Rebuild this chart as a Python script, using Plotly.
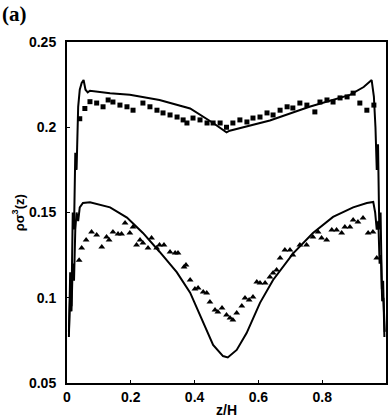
import plotly.graph_objects as go

# Upper curve (solid line, theory)
upper_line_x = [0.006, 0.010, 0.014, 0.018, 0.022, 0.026, 0.030, 0.035, 0.040, 0.046, 0.052, 0.058, 0.065,
                0.072, 0.135, 0.197, 0.29, 0.386, 0.458, 0.50, 0.51, 0.636, 0.76, 0.887, 0.93, 0.955,
                0.962, 0.967, 0.971, 0.975, 0.979, 0.983, 0.987, 0.991, 0.995]
upper_line_y = [0.077, 0.115, 0.095, 0.150, 0.140, 0.185, 0.175, 0.212, 0.222, 0.226, 0.2277, 0.222, 0.2205,
                0.2214, 0.220, 0.219, 0.216, 0.211, 0.2025, 0.197, 0.198, 0.204, 0.212, 0.219, 0.2236, 0.2277,
                0.218, 0.200, 0.175, 0.190, 0.140, 0.150, 0.105, 0.110, 0.077]

# Upper simulation points (squares)
sq_x = [0.040, 0.056, 0.072, 0.093, 0.113, 0.129, 0.144, 0.166, 0.188, 0.207, 0.238, 0.26, 0.282, 0.301,
        0.323, 0.345, 0.364, 0.376, 0.395, 0.417, 0.439, 0.458, 0.48, 0.50, 0.52, 0.542, 0.564, 0.583,
        0.605, 0.627, 0.646, 0.668, 0.69, 0.708, 0.73, 0.752, 0.777, 0.793, 0.815, 0.834, 0.856, 0.878,
        0.897, 0.918, 0.94, 0.962]
sq_y = [0.205, 0.211, 0.215, 0.2142, 0.212, 0.216, 0.2148, 0.213, 0.212, 0.210, 0.2142, 0.212, 0.210, 0.2084,
        0.2072, 0.206, 0.2043, 0.2025, 0.2054, 0.2043, 0.2025, 0.2025, 0.2025, 0.200, 0.2025, 0.2043, 0.2031,
        0.2054, 0.206, 0.2084, 0.2072, 0.210, 0.212, 0.2113, 0.2142, 0.213, 0.209, 0.2148, 0.216, 0.2148,
        0.2172, 0.2178, 0.220, 0.2142, 0.210, 0.213]

# Lower curve (solid line, theory)
lower_line_x = [0.006, 0.010, 0.014, 0.018, 0.022, 0.026, 0.030, 0.035, 0.040, 0.050, 0.072, 0.135, 0.188,
                0.238, 0.29, 0.344, 0.386, 0.427, 0.458, 0.489, 0.504, 0.532, 0.563, 0.605, 0.646, 0.709,
                0.771, 0.834, 0.897, 0.94, 0.96, 0.966, 0.971, 0.976, 0.980, 0.984, 0.988, 0.992, 0.996]
lower_line_y = [0.080, 0.103, 0.092, 0.120, 0.110, 0.140, 0.150, 0.145, 0.153, 0.1556, 0.156, 0.153, 0.147,
                0.138, 0.127, 0.115, 0.103, 0.0852, 0.0723, 0.0658, 0.065, 0.0694, 0.0793, 0.097, 0.1104, 0.126,
                0.138, 0.1474, 0.153, 0.1556, 0.1562, 0.150, 0.140, 0.145, 0.120, 0.125, 0.098, 0.100, 0.080]

# Lower simulation points (triangles)
tri_x = [0.038, 0.046, 0.06, 0.077, 0.093, 0.109, 0.124, 0.132, 0.144, 0.16, 0.171, 0.182, 0.197, 0.207,
         0.218, 0.229, 0.238, 0.254, 0.265, 0.281, 0.29, 0.304, 0.323, 0.339, 0.348, 0.367, 0.373, 0.386,
         0.401, 0.411, 0.427, 0.438, 0.448, 0.464, 0.473, 0.486, 0.50, 0.511, 0.52, 0.532, 0.548, 0.558,
         0.571, 0.583, 0.595, 0.605, 0.621, 0.636, 0.646, 0.657, 0.668, 0.683, 0.699, 0.708, 0.73, 0.751,
         0.771, 0.787, 0.798, 0.814, 0.83, 0.845, 0.861, 0.871, 0.887, 0.897, 0.912, 0.928, 0.944, 0.959,
         0.971]
tri_y = [0.122, 0.1292, 0.1339, 0.1386, 0.1368, 0.1298, 0.1356, 0.1339, 0.1386, 0.1374, 0.1374, 0.1438, 0.138,
         0.1415, 0.131, 0.1339, 0.1321, 0.1292, 0.135, 0.1292, 0.131, 0.131, 0.1268, 0.1262, 0.1262, 0.118,
         0.1192, 0.1104, 0.1051, 0.1057, 0.1034, 0.1028, 0.0975, 0.0928, 0.0916, 0.094, 0.0899, 0.0881, 0.087,
         0.0911, 0.0952, 0.0999, 0.0987, 0.1004, 0.1092, 0.1087, 0.1087, 0.1122, 0.1145, 0.1163, 0.1233, 0.128,
         0.128, 0.1251, 0.131, 0.131, 0.1356, 0.1386, 0.135, 0.1339, 0.1397, 0.1397, 0.138, 0.1415, 0.1415,
         0.1456, 0.1444, 0.1468, 0.138, 0.1386, 0.1233]

x_ticks = [0, 0.2, 0.4, 0.6, 0.8, 1]
x_tick_labels = ["0", "0.2", "0.4", "0.6", "0.8", "1"]
y_ticks = [0.05, 0.1, 0.15, 0.2, 0.25]
y_tick_labels = ["0.05", "0.1", "0.15", "0.2", "0.25"]

fig = go.Figure()
fig.add_trace(go.Scatter(x=upper_line_x, y=upper_line_y, mode="lines",
                         line=dict(color="black", width=2), showlegend=False))
fig.add_trace(go.Scatter(x=lower_line_x, y=lower_line_y, mode="lines",
                         line=dict(color="black", width=2), showlegend=False))
fig.add_trace(go.Scatter(x=sq_x, y=sq_y, mode="markers",
                         marker=dict(symbol="square", size=5, color="black"), showlegend=False))
fig.add_trace(go.Scatter(x=tri_x, y=tri_y, mode="markers",
                         marker=dict(symbol="triangle-up", size=6, color="black"), showlegend=False))

tick_font = dict(family="Liberation Sans, Arial, sans-serif", size=14, color="black", weight="bold")

fig.update_layout(
    width=389, height=420,
    margin=dict(l=67, r=3, t=42, b=37, autoexpand=False),
    paper_bgcolor="white", plot_bgcolor="white",
    xaxis=dict(range=[0, 1], tickvals=x_ticks, ticktext=x_tick_labels, automargin=False,
               showgrid=False, zeroline=False, showline=True, linecolor="black", linewidth=2,
               mirror=True, ticks="inside", ticklen=3, tickcolor="black", tickfont=tick_font,
               ticklabelstandoff=0),
    yaxis=dict(range=[0.05, 0.25], tickvals=y_ticks, ticktext=y_tick_labels, automargin=False,
               showgrid=False, zeroline=False, showline=True, linecolor="black", linewidth=2,
               mirror=True, ticks="inside", ticklen=3, tickcolor="black", tickfont=tick_font,
               ticklabelstandoff=6),
    annotations=[
        dict(text="z/H", xref="paper", yref="paper", x=0.5, y=-0.079,
             xanchor="center", yanchor="middle", showarrow=False, font=tick_font),
        dict(text="ρσ<sup>3</sup>(z)", xref="paper", yref="paper", x=-0.154, y=0.5,
             xanchor="center", yanchor="middle", textangle=-90, showarrow=False,
             font=dict(family="Liberation Sans, Arial, sans-serif", size=13, color="black", weight="bold")),
        dict(text="(a)", xref="paper", yref="paper", x=-0.21, y=1.123,
             xanchor="left", yanchor="top", showarrow=False,
             font=dict(family="Liberation Serif, Times New Roman, serif", size=21, color="black", weight="bold")),
    ],
)

fig.write_html("out.html", config={"displayModeBar": False},
               post_script="document.body.style.margin='0';")
